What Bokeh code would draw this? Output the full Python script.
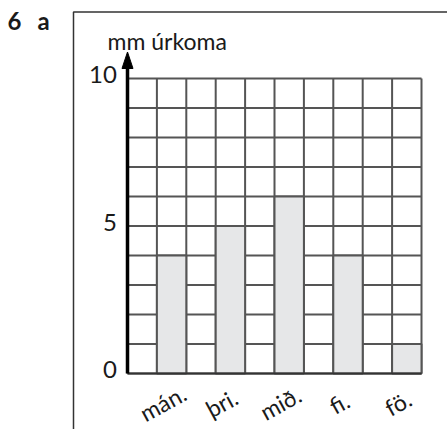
from bokeh.plotting import figure
from bokeh.models import Range1d, ColumnDataSource
from bokeh.core.properties import value
from bokeh.embed import file_html
from bokeh.resources import INLINE

# ---- data ----
categories = ["mán.", "þri.", "mið.", "fi.", "fö."]
rain_mm = [4, 5, 6, 4, 1]
y_ticks = [0, 5, 10]
y_tick_labels = ["0", "5", "10"]
y_title = "mm úrkoma"
exercise = ["6", "a"]

W, H = 447, 429
PX, PY = 29.4, 29.5          # pixels per data unit
x0 = -127 / PX
y1 = 10 + 78 / PY

p = figure(width=W, height=H, output_backend="svg", toolbar_location=None,
           x_range=Range1d(x0, x0 + W / PX), y_range=Range1d(y1 - H / PY, y1),
           min_border=0, x_axis_location=None, y_axis_location=None)
p.outline_line_color = None
p.xgrid.visible = False
p.ygrid.visible = False
p.background_fill_color = "white"

FONT = value("Lato")
TXT = "#1a1a1a"
GRID = "#555555"

# outer frame (left and top edges of the exercise box)
fx = (73 - 127) / PX
fy = 10 + (78 - 11.6) / PY
p.line([fx, fx, 30], [-10, fy, fy], line_color="#333333", line_width=1.5)

# grid 10 x 10
n = 10
p.segment(x0=[0] * (n + 1), x1=[n] * (n + 1), y0=list(range(n + 1)), y1=list(range(n + 1)),
          line_color=GRID, line_width=2)
p.segment(x0=list(range(n + 1)), x1=list(range(n + 1)), y0=[0] * (n + 1), y1=[n] * (n + 1),
          line_color=GRID, line_width=2)

# bars in every second column
xc = [2 * i + 1.5 for i in range(len(categories))]
src = ColumnDataSource(dict(x=xc, top=rain_mm, cat=categories,
                            lx=[v - 0.3 for v in xc], ly=[-1.0] * len(xc)))
p.vbar(x="x", top="top", bottom=0, width=1, source=src,
       fill_color="#e6e7e8", line_color=GRID, line_width=2)

# bottom line and y axis with arrow
tip = 10 + (78 - 51.5) / PY
base = 10 + (78 - 68) / PY
hw = 5.5 / PX
p.line([0, n], [0, 0], line_color="#333333", line_width=2)
p.line([0, 0], [0, base + 0.05], line_color="black", line_width=3.5)
p.patch([-hw, 0, hw], [base, tip, base], fill_color="black", line_color="black", line_width=1)

# y tick labels
p.text(x=[-0.36] * len(y_ticks), y=[t + 0.12 for t in y_ticks], text=y_tick_labels,
       text_font=FONT, text_font_size="24px", text_align="right", text_baseline="middle",
       text_color=TXT)

# y title
p.text(x=[(107 - 127) / PX], y=[10 + (78 - 40) / PY], text=[y_title],
       text_font=FONT, text_font_size="23px", text_align="left", text_baseline="alphabetic",
       text_color=TXT)

# exercise number
p.text(x=[(7 - 127) / PX, (37 - 127) / PX], y=[10 + (78 - 20) / PY] * 2, text=exercise,
       text_font=FONT, text_font_size="24px", text_font_style="bold",
       text_align="left", text_baseline="alphabetic", text_color=TXT)

# category labels
p.text(x="lx", y="ly", text="cat", source=src, angle=0.5,
       text_font=FONT, text_font_size="23px", text_align="center", text_baseline="middle",
       text_color=TXT)

open("out.html", "w").write(file_html(p, INLINE))
